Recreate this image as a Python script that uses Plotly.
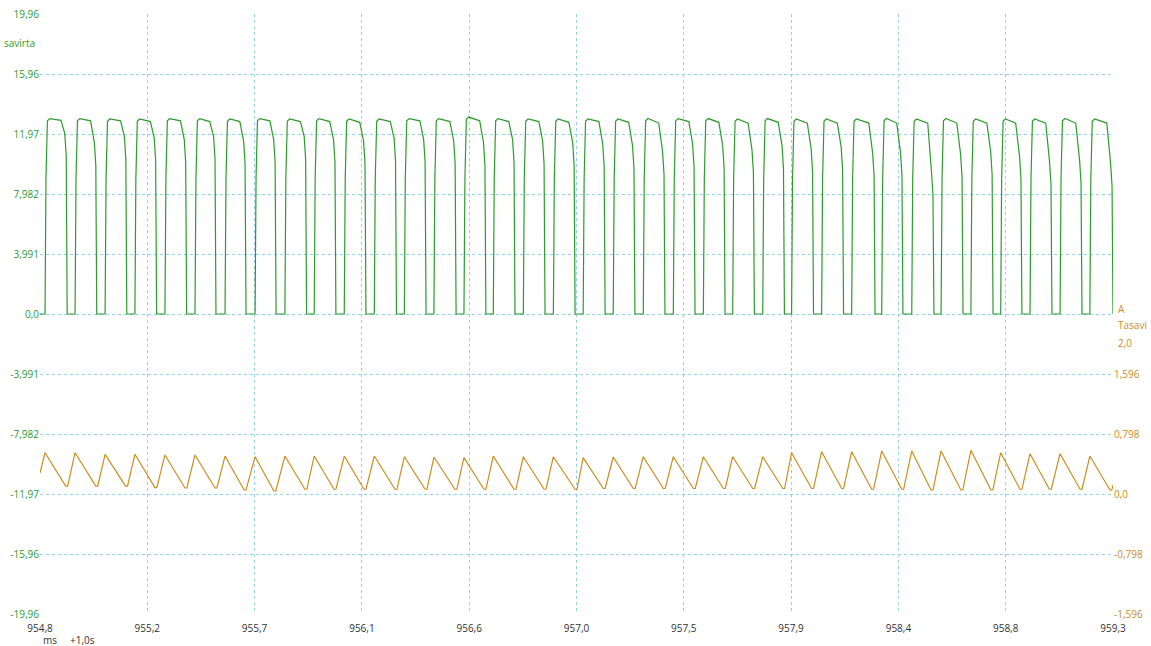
import plotly.graph_objects as go

# ---------------- data ----------------
# x axis (ms, +1.0 s offset)
x_tick_vals = [954.8, 955.25, 955.7, 956.15, 956.6, 957.05, 957.5, 957.95, 958.4, 958.85, 959.3]
x_tick_text = ["954,8", "955,2", "955,7", "956,1", "956,6", "957,0", "957,5", "957,9", "958,4", "958,8", "959,3"]

# left axis: savirta (V)
y1_tick_vals = [19.955, 15.964, 11.973, 7.982, 3.991, 0.0, -3.991, -7.982, -11.973, -15.964, -19.955]
y1_tick_text = ["19,96", "15,96", "11,97", "7,982", "3,991", "0,0", "-3,991", "-7,982", "-11,97", "-15,96", "-19,96"]

# right axis: Tasavi (A)
y2_tick_vals = [1.596, 0.798, 0.0, -0.798, -1.596]
y2_tick_text = ["1,596", "0,798", "0,0", "-0,798", "-1,596"]

# voltage pulses: rising-edge time, falling-edge (bottom) time, levels
pulse_rise_ms = [954.821, 954.947, 955.073, 955.198, 955.324, 955.450, 955.576, 955.702, 955.827,
                 955.950, 956.076, 956.202, 956.328, 956.452, 956.578, 956.701, 956.827, 956.953,
                 957.078, 957.204, 957.330, 957.456, 957.582, 957.705, 957.831, 957.952, 958.078,
                 958.204, 958.330, 958.456, 958.579, 958.704, 958.829, 958.952, 959.078, 959.203]
pulse_fall_ms = [954.914, 955.038, 955.164, 955.289, 955.415, 955.538, 955.664, 955.790, 955.918,
                 956.041, 956.167, 956.295, 956.419, 956.545, 956.670, 956.792, 956.918, 957.044,
                 957.170, 957.295, 957.421, 957.547, 957.673, 957.796, 957.922, 958.044, 958.170,
                 958.302, 958.419, 958.549, 958.671, 958.797, 958.918, 959.044, 959.170, 959.300]
pulse_top_v = [13.00, 13.00, 12.97, 12.97, 13.00, 13.00, 12.97, 13.00, 12.97,
               13.00, 12.97, 12.97, 13.00, 13.00, 13.10, 13.00, 12.97, 12.97,
               12.97, 12.97, 13.00, 13.00, 13.00, 12.97, 13.00, 12.97, 12.97,
               12.97, 13.00, 12.97, 13.00, 12.97, 12.97, 12.97, 13.00, 12.97]
pulse_end_v = [12.88, 12.85, 12.85, 12.80, 12.85, 12.80, 12.80, 12.85, 12.80,
               12.80, 12.75, 12.80, 12.85, 12.80, 12.85, 12.80, 12.80, 12.75,
               12.80, 12.75, 12.70, 12.80, 12.75, 12.70, 12.75, 12.70, 12.70,
               12.70, 12.70, 12.70, 12.70, 12.70, 12.70, 12.70, 12.70, 12.70]
pulse_knee_v = [12.0, 11.4, 11.8, 11.7, 11.6, 11.8, 11.5, 11.6, 11.8,
                11.6, 11.5, 11.7, 11.6, 11.5, 11.4, 11.6, 11.5, 11.4,
                11.3, 11.2, 10.8, 11.3, 11.2, 10.9, 11.2, 11.0, 11.1,
                10.7, 10.7, 9.4, 10.6, 10.8, 10.5, 10.1, 10.2, 10.0]

# current: peak at each rising edge, trough near each falling edge
current_start_a = 0.279
current_peak_a = [0.549, 0.549, 0.528, 0.528, 0.519, 0.519, 0.505, 0.496, 0.505,
                  0.505, 0.505, 0.505, 0.496, 0.492, 0.483, 0.505, 0.496, 0.496,
                  0.483, 0.492, 0.496, 0.496, 0.496, 0.496, 0.496, 0.549, 0.563,
                  0.563, 0.572, 0.572, 0.572, 0.581, 0.549, 0.536, 0.536, 0.505]
current_trough_ms = [954.908, 955.034, 955.159, 955.282, 955.408, 955.534, 955.656, 955.781, 955.911,
                     956.033, 956.159, 956.289, 956.415, 956.540, 956.662, 956.788, 956.914, 957.044,
                     957.162, 957.288, 957.414, 957.540, 957.666, 957.789, 957.915, 958.036, 958.162,
                     958.288, 958.414, 958.537, 958.662, 958.788, 958.910, 959.033, 959.162, 959.287]
current_trough_a = [0.106, 0.106, 0.106, 0.084, 0.080, 0.080, 0.053, 0.040, 0.063,
                    0.063, 0.063, 0.063, 0.063, 0.063, 0.063, 0.063, 0.063, 0.063,
                    0.073, 0.073, 0.073, 0.073, 0.073, 0.073, 0.073, 0.073, 0.073,
                    0.063, 0.063, 0.053, 0.053, 0.053, 0.063, 0.063, 0.063, 0.053]
current_end_a = 0.12

X_START, X_END = 954.8, 959.3

# ---------------- build traces ----------------
vx, vy = [X_START], [0.0]
for r, f, top, end, knee in zip(pulse_rise_ms, pulse_fall_ms, pulse_top_v, pulse_end_v, pulse_knee_v):
    vx += [r, r + 0.004, r + 0.010, r + 0.020, f - 0.026, f - 0.010, f - 0.004, f]
    vy += [0.0, 9.0, top - 0.15, top, end, knee, knee - 1.5, 0.0]
vx.append(X_END)
vy.append(0.0)

cx, cy = [X_START], [current_start_a]
for r, pk, tt, tv in zip(pulse_rise_ms, current_peak_a, current_trough_ms, current_trough_a):
    cx += [r, tt, min(tt + 0.008, X_END)]
    cy += [pk, tv, tv]
cx.append(X_END)
cy.append(current_end_a)

GREEN = "#2f9a2f"
ORANGE = "#c98e1f"
GRID = "#93cfe6"
TEXT = "#333333"
FONT = "Open Sans"

W, H = 1151, 646
ML, MR, MT, MB = 40, 38, 14, 32

fig = go.Figure()
fig.add_trace(go.Scatter(x=vx, y=vy, mode="lines", line=dict(color=GREEN, width=1.2),
                         name="savirta", yaxis="y", hoverinfo="skip"))
fig.add_trace(go.Scatter(x=cx, y=cy, mode="lines", line=dict(color=ORANGE, width=1.2),
                         name="Tasavi", yaxis="y2", hoverinfo="skip"))

fig.update_layout(
    width=W, height=H,
    margin=dict(l=ML, r=MR, t=MT, b=MB, autoexpand=False),
    paper_bgcolor="white", plot_bgcolor="white",
    showlegend=False,
    font=dict(family=FONT, size=10, color=TEXT),
    xaxis=dict(range=[X_START, X_END], tickvals=x_tick_vals, ticktext=x_tick_text,
               showgrid=True, gridcolor=GRID, griddash="3px,3px", gridwidth=1,
               zeroline=False, showline=False, ticks="", automargin=False,
               ticklabelstandoff=7,
               tickfont=dict(family=FONT, size=10, color=TEXT)),
    yaxis=dict(range=[-19.955, 19.955], tickvals=y1_tick_vals, ticktext=y1_tick_text,
               showgrid=True, gridcolor=GRID, griddash="3px,3px", gridwidth=1,
               zeroline=False, showline=False, ticks="", automargin=False,
               tickfont=dict(family=FONT, size=10, color=GREEN)),
    yaxis2=dict(range=[-1.596, 6.384], tickvals=y2_tick_vals, ticktext=y2_tick_text,
                overlaying="y", side="right", showgrid=False, zeroline=False,
                showline=False, ticks="", automargin=False,
                tickfont=dict(family=FONT, size=10, color=ORANGE)),
)

ann = [
    dict(text="savirta", px=37, anchor="right", py=43, color=GREEN),
    dict(text="A", px=1116, anchor="left", py=309, color=ORANGE),
    dict(text="Tasavi", px=1116, anchor="left", py=325, color=ORANGE),
    dict(text="2,0", px=1116, anchor="left", py=343, color=ORANGE),
    dict(text="ms", px=41, anchor="left", py=640, color=TEXT),
    dict(text="+1,0s", px=68, anchor="left", py=640, color=TEXT),
]
pw, ph = W - ML - MR, H - MT - MB
fig.update_layout(annotations=[
    dict(text=a["text"], showarrow=False,
         x=(a["px"] - ML) / pw, xref="paper", xanchor=a["anchor"],
         y=1 - (a["py"] - MT) / ph, yref="paper", yanchor="middle",
         font=dict(family=FONT, size=10, color=a["color"]))
    for a in ann
])

fig.write_html(
    "out.html",
    config={"displayModeBar": False},
    post_script="document.body.style.margin='0';document.body.style.padding='0';"
                "document.documentElement.style.overflow='hidden';",
)
